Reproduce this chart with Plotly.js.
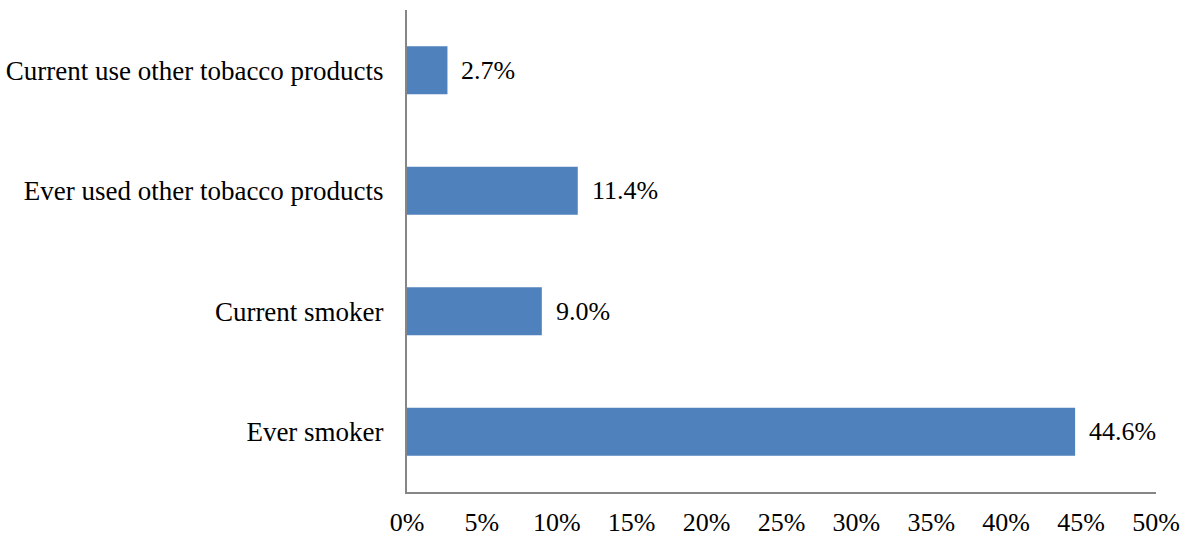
<!DOCTYPE html>
<html><head><meta charset="utf-8">
<script src="https://cdn.plot.ly/plotly-3.0.1.min.js"></script>
<style>body{margin:0;background:#fff}#chart{width:1182px;height:538px}</style>
</head><body><div id="chart"></div>
<script>
const categories = ["Ever smoker", "Current smoker", "Ever used other tobacco products", "Current use other tobacco products"];
const values = [44.6, 9.0, 11.4, 2.7];
const labels = ["44.6%", "9.0%", "11.4%", "2.7%"];
const tickVals = [0, 5, 10, 15, 20, 25, 30, 35, 40, 45, 50];
const tickText = ["0%", "5%", "10%", "15%", "20%", "25%", "30%", "35%", "40%", "45%", "50%"];

const font = {family: "Liberation Serif, Times New Roman, serif", size: 26, color: "#000"};
const catFont = {family: "Liberation Serif, Times New Roman, serif", size: 27, color: "#000"};

const trace = {
  type: "bar", orientation: "h",
  y: categories, x: values,
  marker: {color: "#4F81BD"},
  width: 0.4,
  hoverinfo: "skip"
};

const annotations = values.map((v, i) => ({
  x: v, y: categories[i], xref: "x", yref: "y",
  text: labels[i], showarrow: false, xanchor: "left", xshift: 12,
  font: font
}));

const layout = {
  width: 1182, height: 538,
  margin: {l: 407, r: 26, t: 10, b: 46},
  paper_bgcolor: "#fff", plot_bgcolor: "#fff",
  showlegend: false,
  font: font,
  xaxis: {
    range: [0, 50], tickvals: tickVals, ticktext: tickText,
    showgrid: false, zeroline: false, showline: true, linecolor: "#868686", linewidth: 2,
    ticks: "", ticklabelstandoff: 6, tickfont: font, fixedrange: true
  },
  yaxis: {
    type: "category", categoryorder: "array", categoryarray: categories,
    range: [-0.5, 3.5],
    showgrid: false, zeroline: false, showline: true, linecolor: "#868686", linewidth: 2,
    ticks: "", ticklabelstandoff: 16, tickfont: catFont, fixedrange: true
  },
  annotations: annotations
};

Plotly.newPlot("chart", [trace], layout, {displayModeBar: false, staticPlot: true});
</script></body></html>
